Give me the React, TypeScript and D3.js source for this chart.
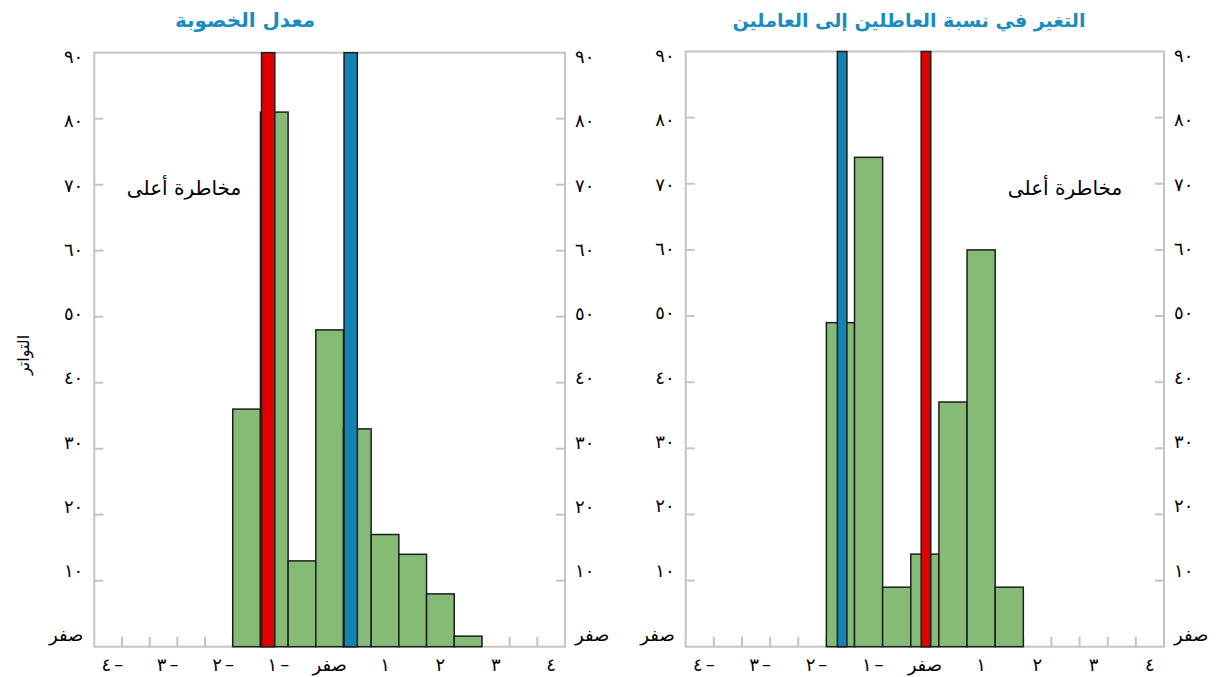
import React from "react";
import * as d3 from "d3";

// ---- data ----
const binStartsLeft = [-1.75, -1.25, -0.75, -0.25, 0.25, 0.75, 1.25, 1.75, 2.25];
const fertilityCounts = [36, 81, 13, 48, 33, 17, 14, 8, 1.6];
const binStartsRight = [-1.75, -1.25, -0.75, -0.25, 0.25, 0.75, 1.25];
const ratioCounts = [49, 74, 9, 14, 37, 60, 9];
const binWidth = 0.5;

const fertilityMarkers = [
  { value: -1.11, color: "#e00000" },
  { value: 0.38, color: "#1283b3" },
];
const ratioMarkers = [
  { value: -1.47, color: "#1283b3" },
  { value: 0.02, color: "#e00000" },
];

const yTickValues = [0, 10, 20, 30, 40, 50, 60, 70, 80, 90];
const yTickLabels = ["صفر", "١٠", "٢٠", "٣٠", "٤٠", "٥٠", "٦٠", "٧٠", "٨٠", "٩٠"];
const xLabelValues = [-4, -3, -2, -1, 0, 1, 2, 3, 4];
const xLabelDigits = ["٤", "٣", "٢", "١", "صفر", "١", "٢", "٣", "٤"];
const xMinorTicks = [-3.75, -3.25, -2.75, -2.25, -1.75, -1.25, -0.75, -0.25, 0.25, 0.75, 1.25, 1.75, 2.25, 2.75, 3.25, 3.75];

const titles = ["معدل الخصوبة", "التغير في نسبة العاطلين إلى العاملين"];
const annotation = "مخاطرة أعلى";
const yAxisTitle = "التواتر";

const FONT = "'DejaVu Sans', sans-serif";
const TITLE_COLOR = "#1a8cc0";
const GREEN = "#86bb76";
const FRAME = "#c4c4c4";

type Marker = { value: number; color: string };

function Panel(props: {
  left: number;
  right: number;
  top: number;
  bottom: number;
  starts: number[];
  counts: number[];
  markers: Marker[];
  markerWidth: number;
  title: string;
  titleX: number;
  titleSize: number;
  annX: number;
}) {
  const { left, right, top, bottom, starts, counts, markers, markerWidth, title, titleX, titleSize, annX } = props;
  const x = d3.scaleLinear().domain([-4.25, 4.25]).range([left, right]);
  const y = d3.scaleLinear().domain([0, 90]).range([bottom, top]);
  const yLab = d3.scaleLinear().domain([0, 90]).range([bottom - 12, top + 4]);
  return (
    <g>
      <text x={titleX} y={20} textAnchor="middle" dominantBaseline="central" fill={TITLE_COLOR}
        fontWeight="bold" fontSize={titleSize} fontFamily={FONT}>{title}</text>
      {/* frame */}
      <rect x={left} y={top} width={right - left} height={bottom - top} fill="white" stroke={FRAME} strokeWidth={2} />
      {/* y ticks */}
      {yTickValues.filter((v) => v > 0 && v < 90).map((v) => (
        <g key={"yt" + v}>
          <line x1={left} x2={left + 9} y1={y(v)} y2={y(v)} stroke={FRAME} strokeWidth={2} />
          <line x1={right} x2={right - 9} y1={y(v)} y2={y(v)} stroke={FRAME} strokeWidth={2} />
        </g>
      ))}
      {/* x ticks */}
      {xMinorTicks.map((v) => (
        <line key={"xt" + v} x1={x(v)} x2={x(v)} y1={bottom} y2={bottom - 10} stroke={FRAME} strokeWidth={2} />
      ))}
      {/* y labels */}
      {yTickValues.map((v, i) => (
        <g key={"yl" + v}>
          <text x={left - 11} y={yLab(v)} textAnchor="end" dominantBaseline="central" fontSize={18} fontFamily={FONT}>{yTickLabels[i]}</text>
          <text x={right + 10} y={yLab(v)} textAnchor="start" dominantBaseline="central" fontSize={18} fontFamily={FONT}>{yTickLabels[i]}</text>
        </g>
      ))}
      {/* x labels */}
      {xLabelValues.map((v, i) =>
        v < 0 ? (
          <g key={"xl" + v}>
            <text x={x(v) + 3} y={664} textAnchor="end" dominantBaseline="central" fontSize={18} fontFamily={FONT}>{xLabelDigits[i]}</text>
            <text x={x(v) + 6} y={663} textAnchor="start" dominantBaseline="central" fontSize={18} fontFamily={FONT}>–</text>
          </g>
        ) : (
          <text key={"xl" + v} x={x(v)} y={664} textAnchor="middle" dominantBaseline="central"
            fontSize={18} fontFamily={FONT}>{xLabelDigits[i]}</text>
        )
      )}
      {/* histogram bars */}
      {counts.map((c, i) => (
        <rect key={"b" + i} x={x(starts[i])} y={y(c)} width={x(starts[i] + binWidth) - x(starts[i])}
          height={y(0) - y(c)} fill={GREEN} stroke="#1e1e1e" strokeWidth={1.5} />
      ))}
      {/* markers */}
      {markers.map((m, i) => {
        const half = markerWidth / 2;
        return (
          <rect key={"m" + i} x={x(m.value - half)} y={y(90)} width={x(m.value + half) - x(m.value - half)}
            height={y(0) - y(90)} fill={m.color} stroke="#1e1e1e" strokeWidth={1.5} />
        );
      })}
      <text x={annX} y={188} textAnchor="middle" dominantBaseline="central" fontSize={20} fontFamily={FONT}>{annotation}</text>
    </g>
  );
}

export default function App() {
  return (
    <svg width={1219} height={677} style={{ position: "absolute", left: 0, top: 0, background: "white" }}>
      <rect x={0} y={0} width={1219} height={677} fill="white" />
      <Panel left={94.3} right={565} top={52.7} bottom={646.7} starts={binStartsLeft} counts={fertilityCounts}
        markers={fertilityMarkers} markerWidth={0.24} title={titles[0]} titleX={245} titleSize={20} annX={184} />
      <Panel left={685.7} right={1164} top={51.5} bottom={646.7} starts={binStartsRight} counts={ratioCounts}
        markers={ratioMarkers} markerWidth={0.17} title={titles[1]} titleX={909} titleSize={19} annX={1065} />
      <text transform="translate(23,355) rotate(-90)" textAnchor="middle" dominantBaseline="central"
        fontSize={16} fontFamily={FONT}>{yAxisTitle}</text>
    </svg>
  );
}
